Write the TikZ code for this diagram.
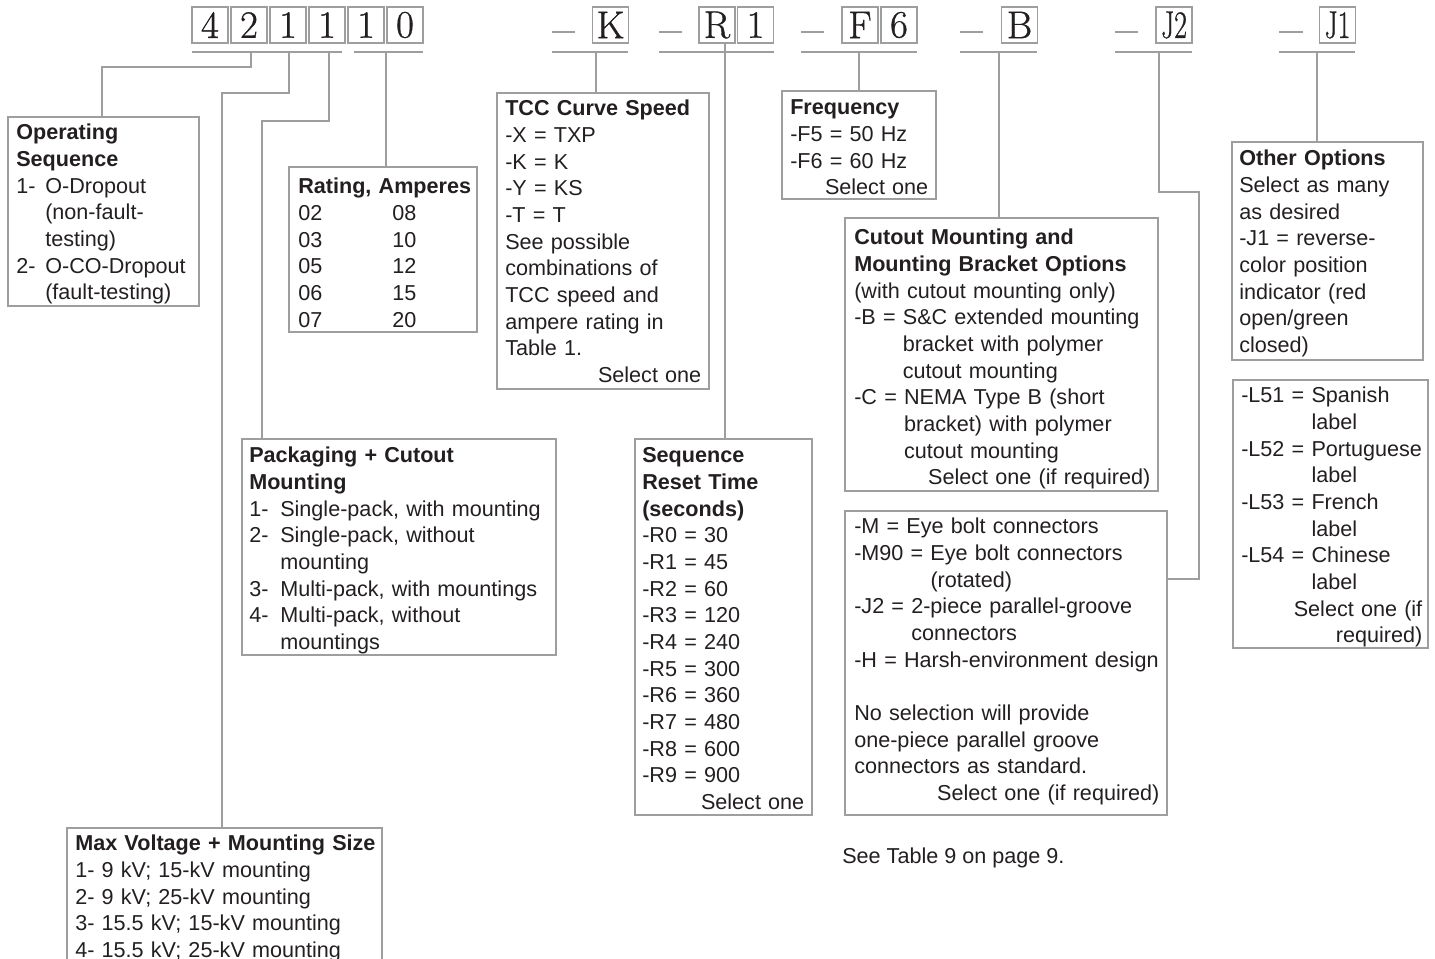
\documentclass[tikz,border=0pt]{standalone}
\usepackage{fontspec}
\newfontfamily\bodyfont{Liberation Sans}
\newfontfamily\codefont[FakeBold=0.9]{Latin Modern Roman}
\usetikzlibrary{fit}
\definecolor{lgray}{RGB}{158,158,158}
\definecolor{ink}{RGB}{35,31,32}
\tikzset{
  conn/.style={draw=lgray, line width=1.5pt},
  dashline/.style={draw=lgray, line width=1.4pt},
  codebox/.style={draw=lgray, line width=1.1pt, minimum width=27pt, minimum height=27pt,
    inner sep=0pt, font=\codefont\fontsize{29}{30}\selectfont, text=ink},
  infobox/.style={draw=lgray, line width=1.6pt, inner sep=0pt},
  txt/.style={anchor=base west, inner sep=0pt, align=left, text=ink,
    font=\bodyfont\fontsize{16.2}{20}\selectfont},
}
\begin{document}
\begin{tikzpicture}[x=0.75pt,y=-0.75pt]
\useasboundingbox (0,0) rectangle (1435,959);
\clip (0,0) rectangle (1435,959);

% ---- code row ----
\node[codebox] (d1) at (210,25) {4};
\node[codebox] (d2) at (249,25) {2};
\node[codebox] (d3) at (288,25) {1};
\node[codebox] (d4) at (327,25) {1};
\node[codebox] (d5) at (366,25) {1};
\node[codebox] (d6) at (405,25) {0};
\node[codebox] (ck) at (610.5,25) {K};
\node[codebox] (cr) at (717,25) {R};
\node[codebox] (cr1) at (755.5,25) {1};
\node[codebox] (cf) at (860,25) {F};
\node[codebox] (cf6) at (899,25) {6};
\node[codebox] (cb) at (1019.5,25) {B};
\node[codebox] (cj2) at (1174,25) {\scalebox{0.72}[1]{J2}};
\node[codebox] (cj1) at (1337.5,25) {\scalebox{0.72}[1]{J1}};

% dashes
\draw[dashline] (552,32) -- (575,32);
\draw[dashline] (659,32) -- (682,32);
\draw[dashline] (801,32) -- (824,32);
\draw[dashline] (960,32) -- (983,32);
\draw[dashline] (1115,32) -- (1138,32);
\draw[dashline] (1279,32) -- (1303,32);

% underlines
\draw[conn] (192,52) -- (342,52);
\draw[conn] (354,52) -- (423,52);
\draw[conn] (552,52) -- (628,52);
\draw[conn] (659,52) -- (774,52);
\draw[conn] (801,52) -- (917,52);
\draw[conn] (960,52) -- (1037,52);
\draw[conn] (1115,52) -- (1192,52);
\draw[conn] (1279,52) -- (1355,52);

% ---- boxes ----
\node[infobox, fit={(8,117) (199,306)}] (op) {};
\node[txt, text width=135pt] (opt) at (16,140) {\textbf{Operating}\\\textbf{Sequence}\\
\makebox[21.75pt][l]{1-}O-Dropout\\\hspace*{21.75pt}(non-fault-\\\hspace*{21.75pt}testing)\\
\makebox[21.75pt][l]{2-}O-CO-Dropout\\\hspace*{21.75pt}(fault-testing)};

\node[infobox, fit={(289,167) (477,332)}] (rt) {};
\node[txt, text width=135pt] (rtt) at (298,193.7) {\textbf{Rating, Amperes}\\
\makebox[70.5pt][l]{02}08\\\makebox[70.5pt][l]{03}10\\\makebox[70.5pt][l]{05}12\\
\makebox[70.5pt][l]{06}15\\\makebox[70.5pt][l]{07}20};

\node[infobox, fit={(497,93) (709,389)}] (tcc) {};
\node[txt, text width=147pt] (tcct) at (505,115.7) {\textbf{TCC Curve Speed}\\
-X = TXP\\-K = K\\-Y = KS\\-T = T\\See possible\\combinations of\\TCC speed and\\
ampere rating in\\Table 1.\\\mbox{}\hfill Select one};

\node[infobox, fit={(782,91) (936,199)}] (fr) {};
\node[txt, text width=103.5pt] (frt) at (790,114.7) {\textbf{Frequency}\\
-F5 = 50 Hz\\-F6 = 60 Hz\\\mbox{}\hfill Select one};

\node[infobox, fit={(845,218) (1158,491)}] (cm) {};
\node[txt, text width=222pt] (cmt) at (854,244.7) {\textbf{Cutout Mounting and}\\
\textbf{Mounting Bracket Options}\\(with cutout mounting only)\\
-B = S\&C extended mounting\\\hphantom{-B = }bracket with polymer\\\hphantom{-B = }cutout mounting\\
-C = NEMA Type B (short\\\hphantom{-C = }bracket) with polymer\\\hphantom{-C = }cutout mounting\\
\mbox{}\hfill Select one (if required)};

\node[infobox, fit={(242,439) (556,655)}] (pk) {};
\node[txt, text width=225pt] (pkt) at (249,462.7) {\textbf{Packaging + Cutout}\\\textbf{Mounting}\\
\makebox[23.25pt][l]{1-}Single-pack, with mounting\\
\makebox[23.25pt][l]{2-}Single-pack, without\\\hspace*{23.25pt}mounting\\
\makebox[23.25pt][l]{3-}Multi-pack, with mountings\\
\makebox[23.25pt][l]{4-}Multi-pack, without\\\hspace*{23.25pt}mountings};

\node[infobox, fit={(635,439) (812,815)}] (sq) {};
\node[txt, text width=121.5pt] (sqt) at (642,462.7) {\textbf{Sequence}\\\textbf{Reset Time}\\
\textbf{(seconds)}\\-R0 = 30\\-R1 = 45\\-R2 = 60\\-R3 = 120\\-R4 = 240\\-R5 = 300\\
-R6 = 360\\-R7 = 480\\-R8 = 600\\-R9 = 900\\\mbox{}\hfill Select one};

\node[infobox, fit={(845,511) (1167,815)}] (cx) {};
\node[txt, text width=228.75pt] (cxt) at (854,533.7) {-M = Eye bolt connectors\\
-M90 = Eye bolt connectors\\\hphantom{-M90 = }(rotated)\\
-J2 = 2-piece parallel-groove\\\hphantom{-J2 = }connectors\\
-H = Harsh-environment design\\\mbox{}\\
No selection will provide\\one-piece parallel groove\\connectors as standard.\\
\mbox{}\hfill Select one (if required)};

\node[infobox, fit={(1232,142) (1423,360)}] (oo) {};
\node[txt, text width=135pt] (oot) at (1239,165.7) {\textbf{Other Options}\\
Select as many\\as desired\\-J1 = reverse-\\color position\\indicator (red\\
open/green\\closed)};

\node[infobox, fit={(1233,380) (1428,648)}] (ll) {};
\node[txt, text width=135.75pt] (llt) at (1241,402.7) {-L51 = Spanish\\\hphantom{-L51 = }label\\
-L52 = Portuguese\\\hphantom{-L52 = }label\\-L53 = French\\\hphantom{-L53 = }label\\
-L54 = Chinese\\\hphantom{-L54 = }label\\\mbox{}\hfill Select one (if\\\mbox{}\hfill required)};

\node[infobox, fit={(67,828) (382,990)}] (mv) {};
\node[txt, text width=228.75pt] (mvt) at (75,850.7) {\textbf{Max Voltage + Mounting Size}\\
1- 9 kV; 15-kV mounting\\2- 9 kV; 25-kV mounting\\3- 15.5 kV; 15-kV mounting\\
4- 15.5 kV; 25-kV mounting};

\node[txt] (see) at (842,863.7) {See Table 9 on page 9.};

% ---- connectors ----
\coordinate (u1) at (251,52);  \coordinate (b1) at (102,67);
\coordinate (u2) at (289,52);  \coordinate (b2) at (222,93);
\coordinate (u3) at (329,52);  \coordinate (b3) at (262,121);
\coordinate (u4) at (386,52);
\coordinate (u5) at (596,52);
\coordinate (u6) at (725,43);
\coordinate (u7) at (859,52);
\coordinate (u8) at (999,52);
\coordinate (u9) at (1159,52); \coordinate (b9) at (1199,192); \coordinate (c9) at (1199,579);
\coordinate (u10) at (1317,52);

\draw[conn] (u1) |- (b1) -- (b1 |- op.north);
\draw[conn] (u2) |- (b2) -- (b2 |- mv.north);
\draw[conn] (u3) |- (b3) -- (b3 |- pk.north);
\draw[conn] (u4) -- (u4 |- rt.north);
\draw[conn] (u5) -- (u5 |- tcc.north);
\draw[conn] (u6) -- (u6 |- sq.north);
\draw[conn] (u7) -- (u7 |- fr.north);
\draw[conn] (u8) -- (u8 |- cm.north);
\draw[conn] (u9) |- (b9) -- (c9) -- (c9 -| cx.east);
\draw[conn] (u10) -- (u10 |- oo.north);
\end{tikzpicture}
\end{document}
